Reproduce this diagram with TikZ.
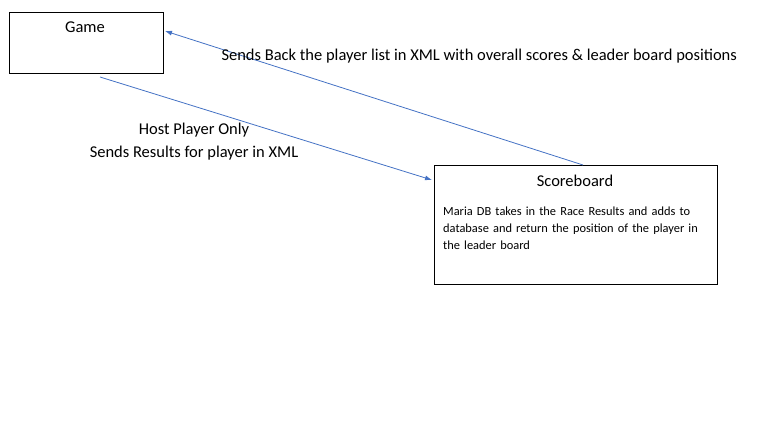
\documentclass[tikz,border=0pt]{standalone}
\usepackage{fontspec}
\setmainfont{Carlito}
\usetikzlibrary{arrows.meta}

\begin{document}
\begin{tikzpicture}[x=1pt,y=-1pt,font=\fontsize{16.5}{23}\selectfont]
    \tikzstyle{box}=[draw=black,line width=0.9pt,inner sep=0pt]
    \tikzstyle{msg}=[draw={rgb,255:red,68;green,114;blue,196},line width=0.8pt,-{Latex[length=7pt,width=5pt]}]
    \tikzstyle{note}=[font=\fontsize{12.4}{17}\selectfont,text width=262pt,align=left,inner sep=0pt]

    \useasboundingbox (0,0) rectangle (766,441);

    \node[box,minimum width=154pt,minimum height=61pt] (game) at (86,42.5) {};
    \node (gametitle) at (85,27) {Game};

    \node[box,minimum width=283pt,minimum height=119pt] (score) at (575.5,224.5) {};
    \node (scoretitle) at (575,181) {Scoreboard};
    \node[note,anchor=north west] (scorenote) at (443,207) {Maria DB takes in the Race Results and adds to database and return the position of the player in the leader board};

    \coordinate (gameout) at (100,77);
    \coordinate (scorein) at (432,180);
    \coordinate (scoreout) at (583,165);
    \coordinate (gamein) at (165,31);

    \draw[msg] (gameout) -- (scorein);
    \draw[msg] (scoreout) -- (gamein);

    \node[anchor=west] (backlabel) at (218,56) {Sends Back the player list in XML with overall scores \& leader board positions};
    \node[align=center] (hostlabel) at (194,142) {Host Player Only\\Sends Results for player in XML};
\end{tikzpicture}
\end{document}
